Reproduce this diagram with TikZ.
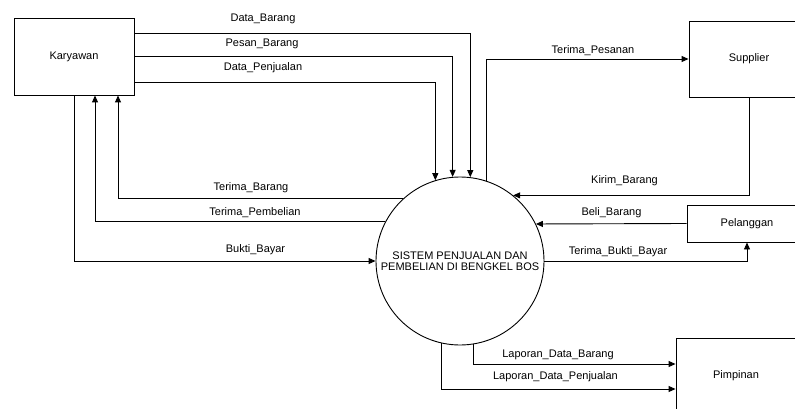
\documentclass[tikz,border=0pt]{standalone}
\usepackage{fontspec}
\setmainfont{Liberation Sans}
\usetikzlibrary{arrows.meta}
\begin{document}
\begin{tikzpicture}[x=1pt,y=-1pt,
  ent/.style={draw, line width=0.9pt, minimum width=120pt, inner sep=0pt, font=\fontsize{11}{13}\selectfont},
  proc/.style={draw, circle, line width=0.9pt, minimum size=168pt, inner sep=0pt, align=center, font=\fontsize{11}{11.5}\selectfont},
  flow/.style={draw, line width=0.9pt, -{Triangle[length=7pt,width=6pt]}},
  lbl/.style={inner sep=0pt, font=\fontsize{11}{13}\selectfont}]
\useasboundingbox (0,0) rectangle (795,409);
\clip (0,0) rectangle (795,409);
% entities
\node[ent, minimum height=77pt] (kar) at (74,56.5) {Karyawan};
\node[ent, minimum height=76pt] (sup) at (749,59) {Supplier};
\node[ent, minimum height=37pt] (pel) at (747,223.5) {Pelanggan};
\node[ent, minimum height=76pt] (pim) at (736,376) {Pimpinan};
\node[proc] (c) at (460,261) {SISTEM PENJUALAN DAN\\PEMBELIAN DI BENGKEL BOS};
% flows
\draw[flow] ([yshift=23.5pt]kar.east) -| (c.83.85);
\draw[flow] ([yshift=0.5pt]kar.east) -| (c.95.47);
\draw[flow] ([yshift=-25.5pt]kar.east) -| (c.107.3);
\draw[flow] (c.132.4) -| ([xshift=44pt]kar.south);
\draw[flow] (c.152.3) -| ([xshift=21pt]kar.south);
\draw[flow] (kar.south) |- (c.west);
\draw[flow] (c.72.7) |- (sup.west);
\draw[flow] (sup.south) |- (c.51.8);
\draw[flow] (pel.west) -- (c.26.9);
\draw[flow] (c.east) -| (pel.south);
\draw[flow] (c.-81.8) |- ([yshift=12pt]pim.west);
\draw[flow] (c.-103.07) |- ([yshift=-13pt]pim.west);
% labels
\node[lbl] (l1) at (263,18.5) {Data\_Barang};
\node[lbl] (l2) at (262,43.5) {Pesan\_Barang};
\node[lbl] (l3) at (263,67.5) {Data\_Penjualan};
\node[lbl] (l4) at (251,187.5) {Terima\_Barang};
\node[lbl] (l5) at (255,212.5) {Terima\_Pembelian};
\node[lbl] (l6) at (255.5,249.5) {Bukti\_Bayar};
\node[lbl] (l7) at (593,50.5) {Terima\_Pesanan};
\node[lbl] (l8) at (624.5,180.5) {Kirim\_Barang};
\node[lbl] (l9) at (611.5,212.5) {Beli\_Barang};
\node[lbl] (l10) at (618,251.5) {Terima\_Bukti\_Bayar};
\node[lbl] (l11) at (558,354.5) {Laporan\_Data\_Barang};
\node[lbl] (l12) at (555.5,376.5) {Laporan\_Data\_Penjualan};
\end{tikzpicture}
\end{document}
